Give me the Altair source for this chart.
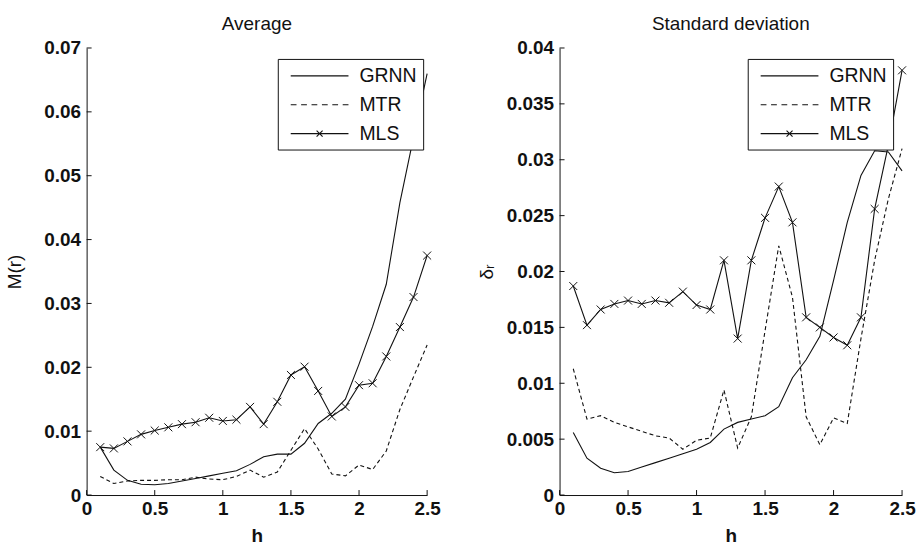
import altair as alt
import pandas as pd

# ---------------- data ----------------
H = [0.1, 0.2, 0.3, 0.4, 0.5, 0.6, 0.7, 0.8, 0.9, 1.0, 1.1, 1.2, 1.3,
     1.4, 1.5, 1.6, 1.7, 1.8, 1.9, 2.0, 2.1, 2.2, 2.3, 2.4, 2.5]

AVG_GRNN = [0.0075, 0.0039, 0.0023, 0.0017, 0.0016, 0.0018, 0.0022, 0.0026, 0.0030,
            0.0034, 0.0038, 0.0048, 0.0060, 0.0064, 0.0064, 0.0081, 0.0112, 0.0128,
            0.0150, 0.0205, 0.0264, 0.0330, 0.0458, 0.0560, 0.0660]
AVG_MTR = [0.0029, 0.0018, 0.0022, 0.0023, 0.0023, 0.0024, 0.0024, 0.0028, 0.0025,
           0.0024, 0.0029, 0.0039, 0.0028, 0.0036, 0.0070, 0.0104, 0.0072, 0.0033,
           0.0030, 0.0047, 0.0040, 0.0069, 0.0134, 0.0185, 0.0235]
AVG_MLS = [0.0075, 0.0073, 0.0084, 0.0095, 0.0101, 0.0106, 0.0111, 0.0114, 0.0121,
           0.0116, 0.0118, 0.0138, 0.0111, 0.0146, 0.0188, 0.0201, 0.0163, 0.0123,
           0.0138, 0.0172, 0.0175, 0.0217, 0.0263, 0.0310, 0.0375]

STD_GRNN = [0.0056, 0.0033, 0.0024, 0.0020, 0.0021, 0.0025, 0.0029, 0.0033, 0.0037,
            0.0041, 0.0047, 0.0059, 0.0065, 0.0068, 0.0071, 0.0079, 0.0105, 0.0121,
            0.0142, 0.0192, 0.0244, 0.0286, 0.0308, 0.0307, 0.0290]
STD_MTR = [0.0113, 0.0068, 0.0071, 0.0065, 0.0061, 0.0057, 0.0053, 0.0051, 0.0041,
           0.0049, 0.0051, 0.0094, 0.0042, 0.0070, 0.0147, 0.0223, 0.0177, 0.0070,
           0.0045, 0.0069, 0.0064, 0.0140, 0.0210, 0.0265, 0.0310]
STD_MLS = [0.0187, 0.0152, 0.0166, 0.0171, 0.0174, 0.0171, 0.0174, 0.0172, 0.0182,
           0.0170, 0.0166, 0.0210, 0.0140, 0.0210, 0.0248, 0.0276, 0.0244, 0.0159,
           0.0150, 0.0141, 0.0134, 0.0159, 0.0256, 0.0313, 0.0380]

SERIES = ["GRNN", "MTR", "MLS"]
X_TICKS = [0, 0.5, 1, 1.5, 2, 2.5]
AVG_Y_TICKS = [0, 0.01, 0.02, 0.03, 0.04, 0.05, 0.06, 0.07]
STD_Y_TICKS = [0, 0.005, 0.01, 0.015, 0.02, 0.025, 0.03, 0.035, 0.04]


def long_df(grnn, mtr, mls):
    rows = []
    for name, vals in zip(SERIES, [grnn, mtr, mls]):
        for hv, v in zip(H, vals):
            rows.append({"h": hv, "value": v, "series": name})
    return pd.DataFrame(rows)


# ---------------- style ----------------
FONT = "Liberation Sans"
INK = "#111111"
PLOT_H = 449

X_PATH = "M-1,-1L1,1M-1,1L1,-1"
# legend sample glyphs (unit = 10 px with symbolSize 400), spanning 58 px
LEG_SOLID = "M-0.4,0H5.4"
LEG_DASH = ("M-0.4,0H0.18M0.644,0H1.224M1.688,0H2.268"
            "M2.732,0H3.312M3.776,0H4.356M4.82,0H5.4")
LEG_MLS = "M-0.4,0H5.4M2.2,-0.3L2.8,0.3M2.2,0.3L2.8,-0.3"


def panel(df, yticks, ymax, yfmt, ytitle, title, width, yextent, ytitlepad, legx):
    xs = alt.Scale(domain=[0, 2.5], nice=False, zero=False)
    ys = alt.Scale(domain=[0, ymax], nice=False)
    xaxis = alt.Axis(values=X_TICKS, format=".1~f", ticks=False, grid=False,
                     labelFlush=False, labelFont=FONT, labelFontSize=19,
                     labelFontWeight="bold", labelColor=INK, labelPadding=5,
                     title="h", titleFont=FONT, titleFontSize=19,
                     titleFontWeight="bold", titleColor=INK, titlePadding=8,
                     domainColor=INK, domainWidth=1)
    yaxis = alt.Axis(values=yticks, format=yfmt, ticks=False, grid=False,
                     labelFont=FONT, labelFontSize=19, labelFontWeight="bold",
                     labelColor=INK, labelPadding=6,
                     minExtent=yextent, maxExtent=yextent,
                     title=ytitle, titleFont=FONT, titleFontSize=19,
                     titleFontWeight="normal", titleColor=INK,
                     titlePadding=ytitlepad, domainColor=INK, domainWidth=1)
    X = alt.X("h:Q", scale=xs, axis=xaxis)
    Y = alt.Y("value:Q", scale=ys, axis=yaxis)
    base = alt.Chart(df).encode(x=X, y=Y)
    solid = base.transform_filter(alt.datum.series != "MTR").mark_line(
        color=INK, strokeWidth=1.1).encode(detail="series:N")
    dashed = base.transform_filter(alt.datum.series == "MTR").mark_line(
        color=INK, strokeWidth=1.1, strokeDash=[4, 3])
    markers = base.transform_filter(alt.datum.series == "MLS").mark_point(
        shape=X_PATH, size=64, filled=False, color=INK, strokeWidth=1, opacity=1)
    # legend-only layer: no rows survive the filter, the legend is built from the scale domain
    legend_layer = base.transform_filter(alt.datum.h > 100).mark_point(
        filled=False, color=INK, opacity=1).encode(
        shape=alt.Shape("series:N",
                        scale=alt.Scale(domain=SERIES, range=[LEG_SOLID, LEG_DASH, LEG_MLS]),
                        legend=alt.Legend(orient="none", legendX=legx, legendY=11,
                                          direction="vertical", title=None,
                                          strokeColor=INK, fillColor="white",
                                          padding=6, cornerRadius=0, rowPadding=8,
                                          symbolSize=400, symbolStrokeColor=INK,
                                          symbolStrokeWidth=1.1, symbolOpacity=1,
                                          symbolFillColor="transparent",
                                          labelFont=FONT, labelFontSize=19.5,
                                          labelColor=INK, labelOffset=54)),
    )
    yt = alt.Chart(pd.DataFrame({"value": yticks})).mark_rule(color=INK, strokeWidth=1).encode(
        y=Y, x=alt.value(0), x2=alt.value(5))
    xt = alt.Chart(pd.DataFrame({"h": X_TICKS})).mark_rule(color=INK, strokeWidth=1).encode(
        x=X, y=alt.value(PLOT_H), y2=alt.value(PLOT_H - 5))
    return alt.layer(solid, dashed, markers, yt, xt, legend_layer).properties(
        width=width, height=PLOT_H,
        title=alt.TitleParams(title, font=FONT, fontSize=19, fontWeight="normal",
                              color=INK, offset=5, frame="group", anchor="middle"),
    )


left = panel(long_df(AVG_GRNN, AVG_MTR, AVG_MLS), AVG_Y_TICKS, 0.07, ".2~f",
             "M(r)", "Average", 342, 44, 18, 192)
right = panel(long_df(STD_GRNN, STD_MTR, STD_MLS), STD_Y_TICKS, 0.04, ".3~f",
              "δᵣ", "Standard deviation", 344, 53, 10, 189)

chart = alt.hconcat(left, right, spacing=37).resolve_scale(
    shape="independent"
).resolve_legend(shape="independent").properties(
    padding={"left": 6, "top": 14, "right": 0, "bottom": 0},
    background="white",
).configure_view(stroke=None)

chart.save("out.html", embed_options={"renderer": "svg", "actions": False})
